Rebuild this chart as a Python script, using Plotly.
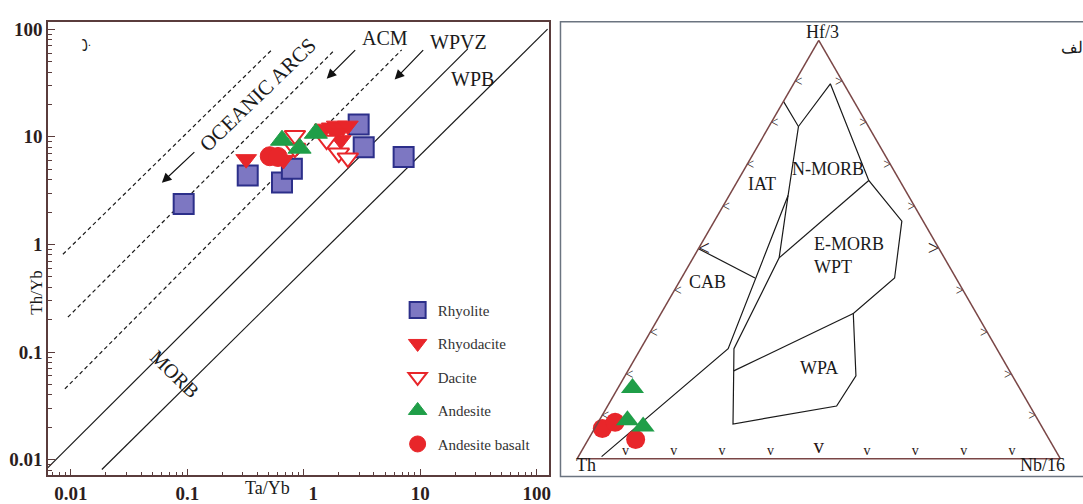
import plotly.graph_objects as go

W, H = 1083, 504
SERIF = "Liberation Serif"

# ---------------- Left panel: Th/Yb vs Ta/Yb ----------------
rhyolite_x = [0.093, 0.33, 0.65, 0.79, 2.96, 3.27, 7.2]
rhyolite_y = [2.37, 4.36, 3.76, 5.05, 13.0, 8.0, 6.5]
rhyodacite_x = [0.32, 0.67, 1.51, 1.74, 1.92, 2.16, 2.39, 1.88, 2.08]
rhyodacite_y = [6.2, 6.1, 11.9, 12.2, 12.7, 12.2, 12.7, 10.8, 9.3]
dacite_x = [0.84, 0.84, 1.57, 2.0, 2.39]
dacite_y = [10.3, 7.85, 9.3, 7.07, 6.36]
andesite_x = [0.65, 0.92, 1.27]
andesite_y = [9.3, 7.85, 10.8]
basalt_x = [0.51, 0.6]
basalt_y = [6.6, 6.5]

# field boundary lines (Ta/Yb, Th/Yb end points)
solid_upper_x = [0.00635, 25.6]
solid_upper_y = [0.00845, 65.7]
solid_lower_x = [0.01845, 124.0]
solid_lower_y = [0.0081, 100.0]
dash1_x = [0.00854, 0.542]
dash1_y = [0.81, 65.7]
dash2_x = [0.00942, 1.845]
dash2_y = [0.211, 64.3]
dash3_x = [0.00888, 6.93]
dash3_y = [0.0455, 64.3]

major_ticks = [0.01, 0.1, 1, 10, 100]
x_tick_text = ["0.01", "0.1", "\u00a0" * 4 + "1", "10", "100"]
y_tick_text = ["0.01", "0.1", "1", "10", "100"]
minor_ticks = [m * d for d in [0.001, 0.01, 0.1, 1, 10, 100] for m in range(2, 10)]

# ---------------- Right panel: Th - Hf/3 - Nb/16 (percent) ----------------
# boundary polylines (Hf/3, Th, Nb/16)
arc_hf = [85.4, 79.4, 62.9, 26.3, 0.5]
arc_th = [14.6, 14.5, 24.9, 55.6, 94.7]
arc_nb = [0.0, 6.1, 12.2, 18.1, 4.8]

wp_hf = [79.4, 89.6, 66.5, 56.8, 43.2, 34.7, 19.8, 12.6, 8.3, 21.0, 26.3, 48.0, 62.9]
wp_th = [14.5, 2.8, 6.4, 4.4, 12.7, 25.5, 32.4, 40.0, 63.6, 57.1, 54.4, 34.2, 24.9]
wp_nb = [6.1, 7.6, 27.1, 38.8, 44.1, 39.8, 47.8, 47.4, 28.1, 21.9, 19.3, 17.8, 12.2]

nmorb_hf = [66.5, 48.0]
nmorb_th = [6.4, 34.2]
nmorb_nb = [27.1, 17.8]

wpa_hf = [34.7, 21.0]
wpa_th = [25.5, 57.1]
wpa_nb = [39.8, 21.9]

cab_hf = [50.2, 43.2]
cab_th = [49.8, 41.6]
cab_nb = [0.0, 15.2]

t_andesite_hf = [16.9, 9.2, 7.7]
t_andesite_th = [80.1, 85.0, 82.5]
t_andesite_nb = [3.0, 5.8, 9.8]
t_basalt_hf = [7.2, 8.7, 4.6]
t_basalt_th = [91.2, 87.8, 85.6]
t_basalt_nb = [1.6, 3.5, 9.8]

tick_pos = [10, 20, 30, 40, 50, 60, 70, 80, 90]

# ---------------- colours ----------------
PURPLE = "#7d77c2"
PURPLE_EDGE = "#2c2f8a"
RED = "#e8262a"
GREEN = "#1f9e48"
AXIS = "#5a3c3c"
TRI = "#7a4646"


def P(px, py):
    return px / W, 1 - py / H


fig = go.Figure()

line_style = dict(color="#1a1a1a", width=1.2)
dash_style = dict(color="#1a1a1a", width=1.2, dash="4px,3px")
for xs, ys, st in [(solid_upper_x, solid_upper_y, line_style),
                   (solid_lower_x, solid_lower_y, line_style),
                   (dash1_x, dash1_y, dash_style),
                   (dash2_x, dash2_y, dash_style),
                   (dash3_x, dash3_y, dash_style)]:
    fig.add_trace(go.Scatter(x=xs, y=ys, mode="lines", line=st, showlegend=False,
                             hoverinfo="skip", cliponaxis=True))

fig.add_trace(go.Scatter(x=rhyolite_x, y=rhyolite_y, mode="markers", name="Rhyolite",
                         legendgroup="a",
                         marker=dict(symbol="square", size=20, color=PURPLE,
                                     line=dict(color=PURPLE_EDGE, width=2))))
fig.add_trace(go.Scatter(x=rhyodacite_x, y=rhyodacite_y, mode="markers", name="Rhyodacite",
                         legendgroup="b",
                         marker=dict(symbol="triangle-down", size=18, color=RED,
                                     line=dict(color=RED, width=1))))
fig.add_trace(go.Scatter(x=dacite_x, y=dacite_y, mode="markers", name="Dacite",
                         legendgroup="c",
                         marker=dict(symbol="triangle-down", size=18, color="white",
                                     line=dict(color=RED, width=2))))
fig.add_trace(go.Scatter(x=andesite_x, y=andesite_y, mode="markers", name="Andesite",
                         legendgroup="d",
                         marker=dict(symbol="triangle-up", size=20, color=GREEN,
                                     line=dict(color=GREEN, width=1))))
fig.add_trace(go.Scatter(x=basalt_x, y=basalt_y, mode="markers", name="Andesite basalt",
                         legendgroup="e",
                         marker=dict(symbol="circle", size=19, color=RED,
                                     line=dict(color=RED, width=1))))

# ---------------- ternary ----------------
for hf, th, nb in [(arc_hf, arc_th, arc_nb), (wp_hf, wp_th, wp_nb),
                   (nmorb_hf, nmorb_th, nmorb_nb), (wpa_hf, wpa_th, wpa_nb),
                   (cab_hf, cab_th, cab_nb)]:
    fig.add_trace(go.Scatterternary(a=hf, b=th, c=nb, mode="lines",
                                    line=dict(color="#1a1a1a", width=1.2),
                                    showlegend=False, hoverinfo="skip"))

sizes = [21 if t == 50 else 14 for t in tick_pos]
CHEV = "#2a1616"
fig.add_trace(go.Scatterternary(a=tick_pos, b=[100 - t for t in tick_pos], c=[0] * 9,
                                mode="text", text=["<"] * 9, textposition="middle right",
                                textfont=dict(size=sizes, color=CHEV),
                                showlegend=False, hoverinfo="skip", cliponaxis=False))
fig.add_trace(go.Scatterternary(a=[0] * 9, b=[100 - t for t in tick_pos], c=tick_pos,
                                mode="text", text=["v"] * 9, textposition="top center",
                                textfont=dict(size=sizes, color=CHEV),
                                showlegend=False, hoverinfo="skip", cliponaxis=False))
fig.add_trace(go.Scatterternary(a=tick_pos, b=[0] * 9, c=[100 - t for t in tick_pos],
                                mode="text", text=[">"] * 9, textposition="middle left",
                                textfont=dict(size=sizes, color=CHEV),
                                showlegend=False, hoverinfo="skip", cliponaxis=False))

fig.add_trace(go.Scatterternary(a=t_basalt_hf, b=t_basalt_th, c=t_basalt_nb, mode="markers",
                                marker=dict(symbol="circle", size=19, color=RED),
                                showlegend=False, cliponaxis=False))
fig.add_trace(go.Scatterternary(a=t_andesite_hf, b=t_andesite_th, c=t_andesite_nb, mode="markers",
                                marker=dict(symbol="triangle-up", size=20, color=GREEN),
                                showlegend=False, cliponaxis=False))

tern_axis = dict(showticklabels=False, ticks="", showgrid=False, linecolor=TRI,
                 linewidth=1.5, title=dict(text=""), min=0)

annotations = []


def txt(px, py, s, size=18, angle=0, bold=False, color="#1a1a1a", xanchor="center"):
    x, y = P(px, py)
    annotations.append(dict(x=x, y=y, xref="paper", yref="paper", text=s, showarrow=False,
                            textangle=angle, xanchor=xanchor, yanchor="middle", align="left",
                            font=dict(family=SERIF, size=size, color=color,
                                      weight="bold" if bold else "normal")))


def arrow(hx, hy, tx, ty):
    x, y = P(hx, hy)
    annotations.append(dict(x=x, y=y, xref="paper", yref="paper", text="", showarrow=True,
                            axref="pixel", ayref="pixel", ax=tx - hx, ay=ty - hy,
                            arrowhead=2, arrowsize=1.6, arrowwidth=1.2, arrowcolor="#111"))


# left panel labels
txt(258, 94, "OCEANIC ARCS", 21, angle=-44)
txt(385, 36, "ACM", 20)
txt(459, 40, "WPVZ", 20)
txt(473, 77, "WPB", 20)
txt(175, 378, "MORB", 20, angle=44)
txt(82, 43, "ب", 15, angle=-90)
txt(37, 295, "Th/Yb", 17, angle=-90)
txt(268, 494, "Ta/Yb", 18)
arrow(162, 183, 196, 151)
arrow(327, 77, 357, 47)
arrow(395, 78, 425, 47)

# right panel labels
txt(823, 30, "Hf/3", 18)
txt(587, 470, "Th", 18)
txt(1043, 470, "Nb/16", 18)
txt(763, 184, "IAT", 18)
txt(829, 169, "N-MORB", 18)
txt(813, 257, "E-MORB<br>WPT", 18, xanchor="left")
txt(708, 284, "CAB", 18)
txt(820, 372, "WPA", 18)
txt(1060, 45, "الف", 16, xanchor="left")

x0, y1 = P(48, 19)
x1, y0 = P(550, 481)

fig.update_layout(
    width=W, height=H,
    margin=dict(l=0, r=0, t=0, b=0),
    paper_bgcolor="white", plot_bgcolor="white",
    font=dict(family=SERIF, color="#1a1a1a"),
    xaxis=dict(type="log", domain=[x0, x1], range=[-2.197, 2.11],
               tickmode="array", tickvals=major_ticks, ticktext=x_tick_text,
               ticks="inside", ticklen=7, tickwidth=1.2, tickcolor=AXIS,
               minor=dict(tickvals=minor_ticks, ticks="inside", ticklen=4, tickwidth=1,
                          tickcolor=AXIS, showgrid=False),
               showgrid=False, zeroline=False, showline=True, linecolor=AXIS, linewidth=1.5,
               mirror=True,
               tickfont=dict(family=SERIF, size=19, color="#2b1d1d", weight="bold")),
    yaxis=dict(type="log", domain=[y0, y1], range=[-2.146, 2.07],
               tickmode="array", tickvals=major_ticks, ticktext=y_tick_text,
               ticks="inside", ticklen=7, tickwidth=1.2, tickcolor=AXIS,
               minor=dict(tickvals=minor_ticks, ticks="inside", ticklen=4, tickwidth=1,
                          tickcolor=AXIS, showgrid=False),
               showgrid=False, zeroline=False, showline=True, linecolor=AXIS, linewidth=1.5,
               mirror=True,
               tickfont=dict(family=SERIF, size=19, color="#2b1d1d", weight="bold")),
    ternary=dict(domain=dict(x=[573.5 / W, 1065.5 / W], y=[1 - 464 / H, 1 - 38 / H]),
                 sum=100, bgcolor="rgba(0,0,0,0)",
                 aaxis=tern_axis, baxis=tern_axis, caxis=tern_axis),
    legend=dict(x=398 / W, y=1 - 296 / H, xanchor="left", yanchor="top",
                bgcolor="rgba(0,0,0,0)", tracegroupgap=11,
                font=dict(family=SERIF, size=15, color="#333")),
    shapes=[dict(type="rect", xref="paper", yref="paper",
                 x0=561 / W, x1=1.05, y0=1 - 482 / H, y1=1 - 19 / H,
                 line=dict(color="#6b7480", width=1.5), fillcolor="rgba(0,0,0,0)",
                 layer="below")],
    annotations=annotations,
)

fig.write_html("out.html")
